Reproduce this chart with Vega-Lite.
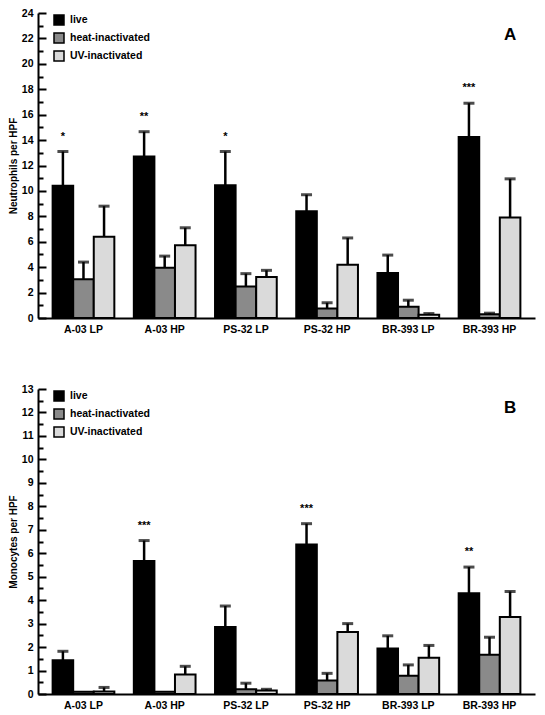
{
  "$schema": "https://vega.github.io/schema/vega-lite/v6.json",
  "padding": {"left": 8, "top": 8, "right": 2, "bottom": 5},
  "background": "white",
  "config": {
    "font": "Liberation Sans",
    "view": {"stroke": null},
    "axis": {"domainColor": "black", "domainWidth": 2, "tickColor": "black", "tickWidth": 2, "labelFont": "Liberation Sans", "labelFontWeight": "bold", "labelColor": "black", "labelFontSize": 10.5, "titleFont": "Liberation Sans", "titleFontWeight": "bold", "titleFontSize": 10, "titleColor": "black", "grid": false},
    "legend": {"labelFont": "Liberation Sans", "labelFontWeight": "bold", "labelFontSize": 10.5, "labelColor": "black", "symbolType": "square", "symbolSize": 100, "symbolStrokeColor": "black", "symbolStrokeWidth": 1.5, "rowPadding": 2, "labelOffset": 5},
    "concat": {"spacing": 49}
  },
  "datasets": {
    "neut": [
      {"strain": "A-03 LP", "treat": "live", "v": 10.4, "e": 13.1, "star": "*"},
      {"strain": "A-03 LP", "treat": "heat-inactivated", "v": 3.05, "e": 4.4, "star": ""},
      {"strain": "A-03 LP", "treat": "UV-inactivated", "v": 6.4, "e": 8.8, "star": ""},
      {"strain": "A-03 HP", "treat": "live", "v": 12.7, "e": 14.66, "star": "**"},
      {"strain": "A-03 HP", "treat": "heat-inactivated", "v": 3.96, "e": 4.87, "star": ""},
      {"strain": "A-03 HP", "treat": "UV-inactivated", "v": 5.73, "e": 7.1, "star": ""},
      {"strain": "PS-32 LP", "treat": "live", "v": 10.44, "e": 13.1, "star": "*"},
      {"strain": "PS-32 LP", "treat": "heat-inactivated", "v": 2.47, "e": 3.49, "star": ""},
      {"strain": "PS-32 LP", "treat": "UV-inactivated", "v": 3.23, "e": 3.75, "star": ""},
      {"strain": "PS-32 HP", "treat": "live", "v": 8.4, "e": 9.7, "star": ""},
      {"strain": "PS-32 HP", "treat": "heat-inactivated", "v": 0.75, "e": 1.2, "star": ""},
      {"strain": "PS-32 HP", "treat": "UV-inactivated", "v": 4.2, "e": 6.3, "star": ""},
      {"strain": "BR-393 LP", "treat": "live", "v": 3.55, "e": 4.95, "star": ""},
      {"strain": "BR-393 LP", "treat": "heat-inactivated", "v": 0.88, "e": 1.4, "star": ""},
      {"strain": "BR-393 LP", "treat": "UV-inactivated", "v": 0.25, "e": 0.35, "star": ""},
      {"strain": "BR-393 HP", "treat": "live", "v": 14.25, "e": 16.9, "star": "***"},
      {"strain": "BR-393 HP", "treat": "heat-inactivated", "v": 0.3, "e": 0.38, "star": ""},
      {"strain": "BR-393 HP", "treat": "UV-inactivated", "v": 7.9, "e": 10.95, "star": ""}
    ],
    "mono": [
      {"strain": "A-03 LP", "treat": "live", "v": 1.44, "e": 1.82, "star": ""},
      {"strain": "A-03 LP", "treat": "heat-inactivated", "v": 0.1, "e": 0.1, "star": ""},
      {"strain": "A-03 LP", "treat": "UV-inactivated", "v": 0.11, "e": 0.28, "star": ""},
      {"strain": "A-03 HP", "treat": "live", "v": 5.67, "e": 6.54, "star": "***"},
      {"strain": "A-03 HP", "treat": "heat-inactivated", "v": 0.1, "e": 0.1, "star": ""},
      {"strain": "A-03 HP", "treat": "UV-inactivated", "v": 0.83, "e": 1.18, "star": ""},
      {"strain": "PS-32 LP", "treat": "live", "v": 2.86, "e": 3.75, "star": ""},
      {"strain": "PS-32 LP", "treat": "heat-inactivated", "v": 0.2, "e": 0.46, "star": ""},
      {"strain": "PS-32 LP", "treat": "UV-inactivated", "v": 0.15, "e": 0.2, "star": ""},
      {"strain": "PS-32 HP", "treat": "live", "v": 6.37, "e": 7.26, "star": "***"},
      {"strain": "PS-32 HP", "treat": "heat-inactivated", "v": 0.58, "e": 0.88, "star": ""},
      {"strain": "PS-32 HP", "treat": "UV-inactivated", "v": 2.64, "e": 3.0, "star": ""},
      {"strain": "BR-393 LP", "treat": "live", "v": 1.94, "e": 2.48, "star": ""},
      {"strain": "BR-393 LP", "treat": "heat-inactivated", "v": 0.78, "e": 1.24, "star": ""},
      {"strain": "BR-393 LP", "treat": "UV-inactivated", "v": 1.54, "e": 2.07, "star": ""},
      {"strain": "BR-393 HP", "treat": "live", "v": 4.29, "e": 5.41, "star": "**"},
      {"strain": "BR-393 HP", "treat": "heat-inactivated", "v": 1.67, "e": 2.42, "star": ""},
      {"strain": "BR-393 HP", "treat": "UV-inactivated", "v": 3.28, "e": 4.37, "star": ""}
    ],
    "labA": [{"strain": "BR-393 HP", "treat": "UV-inactivated", "v": 22.3, "t": "A"}],
    "labB": [{"strain": "BR-393 HP", "treat": "UV-inactivated", "v": 12.2, "t": "B"}]
  },
  "resolve": {"scale": {"color": "independent"}, "legend": {"color": "independent"}},
  "vconcat": [
    {
      "width": 497,
      "height": 305,
      "data": {"name": "neut"},
      "encoding": {
        "x": {"field": "strain", "type": "nominal", "sort": ["A-03 LP", "A-03 HP", "PS-32 LP", "PS-32 HP", "BR-393 LP", "BR-393 HP"], "scale": {"paddingInner": 0.24, "paddingOuter": 0.18}, "axis": {"title": null, "labelAngle": 0, "ticks": false, "labelPadding": 6}},
        "xOffset": {"field": "treat", "type": "nominal", "sort": ["live", "heat-inactivated", "UV-inactivated"], "scale": {"paddingInner": 0, "paddingOuter": 0}},
        "y": {"field": "v", "type": "quantitative", "title": "Neutrophils per HPF", "scale": {"domain": [0, 24], "nice": false}, "axis": {"values": [0,1,2,3,4,5,6,7,8,9,10,11,12,13,14,15,16,17,18,19,20,21,22,23,24], "format": "~g", "labelOverlap": false, "labelExpr": "datum.value % 2 == 0 ? datum.label : ''", "tickSize": {"condition": {"test": "datum.value % 2 == 0", "value": -8}, "value": -5}, "labelPadding": 13, "titlePadding": 3}}
      },
      "layer": [
        {"mark": {"type": "rule", "color": "black", "strokeWidth": 2.5}, "encoding": {"y2": {"field": "e"}}},
        {"mark": {"type": "tick", "color": "black", "thickness": 3, "size": 11}, "transform": [{"filter": "datum.e > datum.v"}], "encoding": {"y": {"field": "e", "type": "quantitative", "title": "Neutrophils per HPF", "scale": {"domain": [0, 24], "nice": false}, "axis": {"values": [0,1,2,3,4,5,6,7,8,9,10,11,12,13,14,15,16,17,18,19,20,21,22,23,24], "format": "~g", "labelOverlap": false, "labelExpr": "datum.value % 2 == 0 ? datum.label : ''", "tickSize": {"condition": {"test": "datum.value % 2 == 0", "value": -8}, "value": -5}, "labelPadding": 13, "titlePadding": 3}}}},
        {"mark": {"type": "bar", "stroke": "black", "strokeWidth": 2},
         "encoding": {
           "color": {"field": "treat", "type": "nominal", "sort": ["live", "heat-inactivated", "UV-inactivated"], "scale": {"domain": ["live", "heat-inactivated", "UV-inactivated"], "range": ["#000000", "#8a8a8a", "#dadada"]}, "legend": {"title": null, "orient": "none", "legendX": 15, "legendY": 1}}
         }},
        {"transform": [{"filter": "datum.star != ''"}], "mark": {"type": "text", "dy": -15, "fontWeight": "bold", "fontSize": 11, "color": "black"}, "encoding": {"y": {"field": "e", "type": "quantitative", "title": "Neutrophils per HPF", "scale": {"domain": [0, 24], "nice": false}, "axis": {"values": [0,1,2,3,4,5,6,7,8,9,10,11,12,13,14,15,16,17,18,19,20,21,22,23,24], "format": "~g", "labelOverlap": false, "labelExpr": "datum.value % 2 == 0 ? datum.label : ''", "tickSize": {"condition": {"test": "datum.value % 2 == 0", "value": -8}, "value": -5}, "labelPadding": 13, "titlePadding": 3}}, "text": {"field": "star"}}},
        {"data": {"name": "labA"}, "mark": {"type": "text", "fontWeight": "bold", "fontSize": 17, "color": "black"}, "encoding": {"text": {"field": "t"}}}
      ]
    },
    {
      "width": 497,
      "height": 305,
      "data": {"name": "mono"},
      "encoding": {
        "x": {"field": "strain", "type": "nominal", "sort": ["A-03 LP", "A-03 HP", "PS-32 LP", "PS-32 HP", "BR-393 LP", "BR-393 HP"], "scale": {"paddingInner": 0.24, "paddingOuter": 0.18}, "axis": {"title": null, "labelAngle": 0, "ticks": false, "labelPadding": 6}},
        "xOffset": {"field": "treat", "type": "nominal", "sort": ["live", "heat-inactivated", "UV-inactivated"], "scale": {"paddingInner": 0, "paddingOuter": 0}},
        "y": {"field": "v", "type": "quantitative", "title": "Monocytes per HPF", "scale": {"domain": [0, 13], "nice": false}, "axis": {"values": [0,0.5,1,1.5,2,2.5,3,3.5,4,4.5,5,5.5,6,6.5,7,7.5,8,8.5,9,9.5,10,10.5,11,11.5,12,12.5,13], "format": "~g", "labelOverlap": false, "labelExpr": "datum.value % 1 == 0 ? datum.label : ''", "tickSize": {"condition": {"test": "datum.value % 1 == 0", "value": -8}, "value": -5}, "labelPadding": 13, "titlePadding": 3}}
      },
      "layer": [
        {"mark": {"type": "rule", "color": "black", "strokeWidth": 2.5}, "encoding": {"y2": {"field": "e"}}},
        {"mark": {"type": "tick", "color": "black", "thickness": 3, "size": 11}, "transform": [{"filter": "datum.e > datum.v"}], "encoding": {"y": {"field": "e", "type": "quantitative", "title": "Monocytes per HPF", "scale": {"domain": [0, 13], "nice": false}, "axis": {"values": [0,0.5,1,1.5,2,2.5,3,3.5,4,4.5,5,5.5,6,6.5,7,7.5,8,8.5,9,9.5,10,10.5,11,11.5,12,12.5,13], "format": "~g", "labelOverlap": false, "labelExpr": "datum.value % 1 == 0 ? datum.label : ''", "tickSize": {"condition": {"test": "datum.value % 1 == 0", "value": -8}, "value": -5}, "labelPadding": 13, "titlePadding": 3}}}},
        {"mark": {"type": "bar", "stroke": "black", "strokeWidth": 2},
         "encoding": {
           "color": {"field": "treat", "type": "nominal", "sort": ["live", "heat-inactivated", "UV-inactivated"], "scale": {"domain": ["live", "heat-inactivated", "UV-inactivated"], "range": ["#000000", "#8a8a8a", "#dadada"]}, "legend": {"title": null, "orient": "none", "legendX": 15, "legendY": 1}}
         }},
        {"transform": [{"filter": "datum.star != ''"}], "mark": {"type": "text", "dy": -15, "fontWeight": "bold", "fontSize": 11, "color": "black"}, "encoding": {"y": {"field": "e", "type": "quantitative", "title": "Monocytes per HPF", "scale": {"domain": [0, 13], "nice": false}, "axis": {"values": [0,0.5,1,1.5,2,2.5,3,3.5,4,4.5,5,5.5,6,6.5,7,7.5,8,8.5,9,9.5,10,10.5,11,11.5,12,12.5,13], "format": "~g", "labelOverlap": false, "labelExpr": "datum.value % 1 == 0 ? datum.label : ''", "tickSize": {"condition": {"test": "datum.value % 1 == 0", "value": -8}, "value": -5}, "labelPadding": 13, "titlePadding": 3}}, "text": {"field": "star"}}},
        {"data": {"name": "labB"}, "mark": {"type": "text", "fontWeight": "bold", "fontSize": 17, "color": "black"}, "encoding": {"text": {"field": "t"}}}
      ]
    }
  ]
}
